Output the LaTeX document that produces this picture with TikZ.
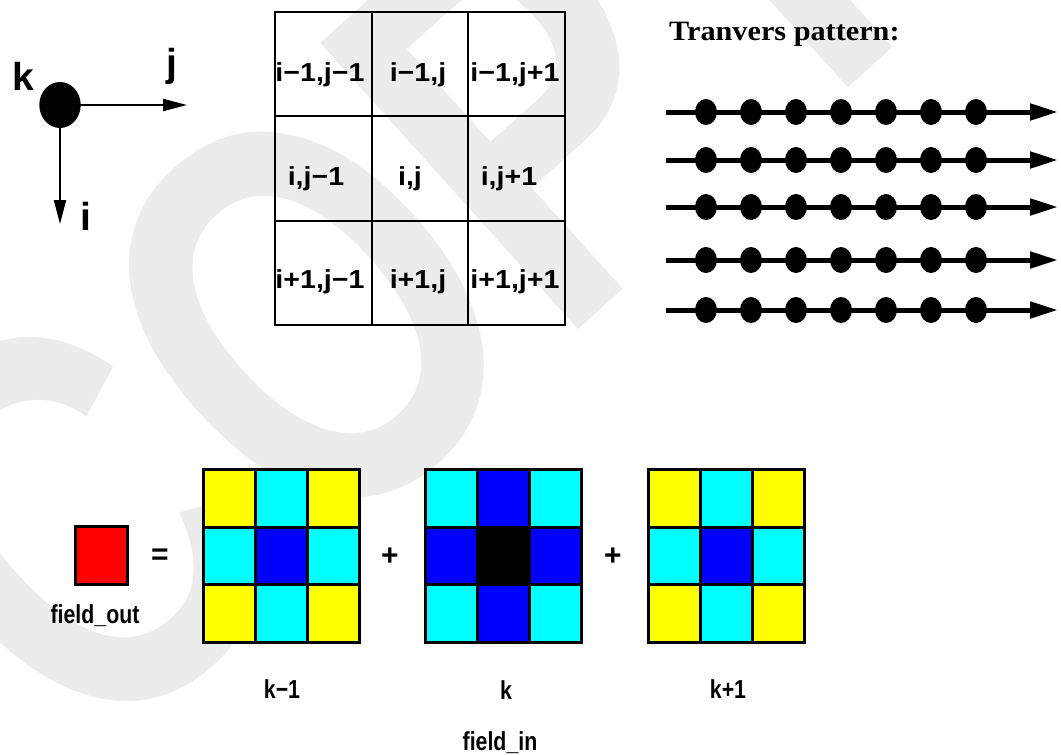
\documentclass[tikz,border=0pt]{standalone}
\usepackage{fontspec}
\setmainfont{Liberation Sans}
\newfontfamily\cellfont[FakeStretch=1.1]{Liberation Sans Bold}
\newfontfamily\axisfont{Liberation Sans Bold}
\newfontfamily\labfont[FakeStretch=0.82]{Liberation Sans Bold}
\newfontfamily\titlefont[FakeStretch=1.08]{Liberation Serif Bold}
\newfontfamily\markfont[FakeStretch=0.75]{Liberation Sans Bold}
\usetikzlibrary{arrows.meta,shapes.geometric}
\definecolor{wm}{RGB}{236,236,236}
\definecolor{cellyellow}{RGB}{255,255,0}
\definecolor{cellcyan}{RGB}{0,255,255}
\definecolor{cellblue}{RGB}{0,0,255}
\definecolor{cellred}{RGB}{255,0,0}

\tikzset{
  gridcell/.style={draw, line width=2pt, minimum width=96.5pt, minimum height=104.5pt, inner sep=0pt, outer sep=0pt},
  celllabel/.style={font=\cellfont\fontsize{26}{30}\selectfont, inner sep=0pt},
  axislabel/.style={font=\axisfont\fontsize{39}{44}\selectfont, inner sep=0pt},
  axisarrow/.style={line width=2pt, -{Triangle[length=24pt,width=12pt]}},
  rowarrow/.style={line width=5pt, -{Triangle[length=28pt,width=16pt]}},
  bigdot/.style={ellipse, fill=black, minimum width=22pt, minimum height=26pt, inner sep=0pt},
  stencilcell/.style={draw, line width=3pt, minimum width=52pt, minimum height=57.7pt, inner sep=0pt, outer sep=0pt},
  eqlabel/.style={font=\labfont\fontsize{26}{30}\selectfont, inner sep=0pt},
  opsign/.style={font=\axisfont\fontsize{30}{34}\selectfont, inner sep=0pt},
}

\begin{document}
\begin{tikzpicture}[x=1pt, y=-1pt]
\useasboundingbox (0,0) rectangle (1061,755);

% faint background watermark
\begin{scope}
  \clip (0,0) rectangle (1061,755);
  \node[rotate=42, text=wm, font=\markfont\fontsize{560}{560}\selectfont, inner sep=0pt] (wmark) at (403,229) {COPY};
\end{scope}

% coordinate axes: k points out of the page
\node[ellipse, fill=black, minimum width=41.4pt, minimum height=46pt, inner sep=0pt] (origin) at (60,105) {};
\coordinate (jtip) at (187,105);
\coordinate (itip) at (60,224);
\draw[axisarrow] (origin.center) -- (jtip);
\draw[axisarrow] (origin.center) -- (itip);
\node[axislabel] (klab) at (23,76) {k};
\node[axislabel] (jlab) at (172,66) {j};
\node[axislabel] (ilab) at (86,216) {i};

% 3x3 neighbourhood of (i,j)
\foreach \r in {0,1,2} {
  \foreach \c in {0,1,2} {
    \node[gridcell, anchor=north west] (g\r\c) at ({275+96.5*\c},{11.5+104.5*\r}) {};
  }
}
\node[celllabel] (l00) at (320,75) {i−1,j−1};
\node[celllabel] (l01) at (418,75) {i−1,j};
\node[celllabel] (l02) at (515,75) {i−1,j+1};
\node[celllabel] (l10) at (316,179) {i,j−1};
\node[celllabel] (l11) at (410,179) {i,j};
\node[celllabel] (l12) at (509,179) {i,j+1};
\node[celllabel] (l20) at (320,282) {i+1,j−1};
\node[celllabel] (l21) at (418,282) {i+1,j};
\node[celllabel] (l22) at (515,282) {i+1,j+1};

% traversal pattern: rows swept left to right
\node[font=\titlefont\fontsize{28}{32}\selectfont, inner sep=0pt, anchor=base west] (title) at (669,40) {Tranvers pattern:};
\foreach \y [count=\n] in {112,160,207,260,310} {
  \coordinate (r\n s) at (666,\y);
  \coordinate (r\n e) at (1058,\y);
  \draw[rowarrow] (r\n s) -- (r\n e);
  \foreach \k in {0,...,6} {
    \node[bigdot] (r\n d\k) at ({706+45*\k},\y) {};
  }
}

% field_out = sum of the stencil over planes k-1, k, k+1
\node[stencilcell, fill=cellred, minimum height=58pt] (out) at (101,555) {};
\node[eqlabel] (outlab) at (95,616) {field\_out};
\node[opsign] (eq) at (160,557) {=};
\node[opsign] (plus1) at (390,557) {+};
\node[opsign] (plus2) at (613,557) {+};

\foreach \gx/\gname/\pal in {
  203.3/km/{cellyellow,cellcyan,cellyellow,cellcyan,cellblue,cellcyan,cellyellow,cellcyan,cellyellow},
  425.7/kc/{cellcyan,cellblue,cellcyan,cellblue,black,cellblue,cellcyan,cellblue,cellcyan},
  648/kp/{cellyellow,cellcyan,cellyellow,cellcyan,cellblue,cellcyan,cellyellow,cellcyan,cellyellow}} {
  \foreach \col [count=\n from 0] in \pal {
    \pgfmathtruncatemacro{\rr}{\n/3}
    \pgfmathtruncatemacro{\cc}{\n-3*\rr}
    \node[stencilcell, fill=\col] (\gname\n) at ({\gx+26+52*\cc},{469.3+28.85+57.7*\rr}) {};
  }
}
\node[eqlabel] (kmlab) at (282,689) {k−1};
\node[eqlabel] (kclab) at (506,690) {k};
\node[eqlabel] (kplab) at (728,689) {k+1};
\node[eqlabel] (inlab) at (500,743) {field\_in};

\end{tikzpicture}
\end{document}
